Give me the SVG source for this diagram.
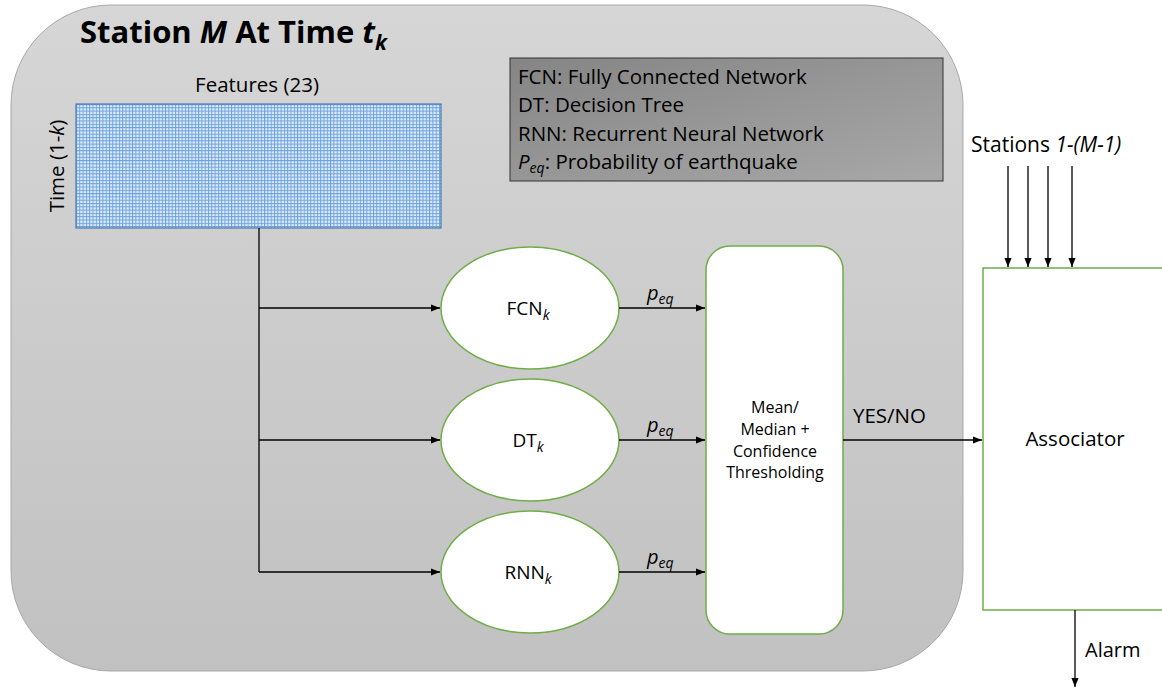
<svg xmlns="http://www.w3.org/2000/svg" width="1162" height="687" viewBox="0 0 1162 687">
<defs>
<linearGradient id="bg" x1="0" y1="0" x2="0" y2="1">
<stop offset="0" stop-color="#d6d6d6"/>
<stop offset="1" stop-color="#c1c1c1"/>
</linearGradient>
<linearGradient id="lg" x1="0" y1="0" x2="1" y2="1">
<stop offset="0" stop-color="#858585"/>
<stop offset="1" stop-color="#a8a8a8"/>
</linearGradient>
<pattern id="grid" x="76" y="104" width="3.3" height="3.3" patternUnits="userSpaceOnUse">
<rect width="3.3" height="3.3" fill="#e2ecf8"/>
<path d="M0 0.5H3.3M0.5 0V3.3" stroke="#6aa2e0" stroke-width="1"/>
</pattern>
<marker id="arr" viewBox="0 0 10 10" refX="10" refY="5" markerWidth="9" markerHeight="9" markerUnits="userSpaceOnUse" orient="auto">
<path d="M0 1L10 5L0 9Z" fill="#000"/>
</marker>
<style>
text{font-family:"Open Sans","Noto Sans","Liberation Sans",sans-serif;fill:#000}
.ln{stroke:#000;stroke-width:1.3;fill:none}
.node{fill:#fff;stroke:#70ad47;stroke-width:1.5}
.lbl{font-size:19px}
.pe{font-size:20px;font-style:italic}
.sub{font-size:14px;font-style:italic}
.lg{font-size:20.5px}
</style>
</defs>
<g id="station">
<rect x="11" y="5" width="952" height="666" rx="100" ry="100" fill="url(#bg)" stroke="#a8a8a8" stroke-width="1"/>
<text x="80" y="43" font-size="31" font-weight="bold">Station <tspan font-style="italic">M</tspan> At Time <tspan font-style="italic">t</tspan><tspan font-style="italic" font-size="21" dy="7">k</tspan></text>
</g>
<g id="legend">
<rect x="510" y="58" width="433" height="123" fill="url(#lg)" stroke="#333" stroke-width="1"/>
<text class="lg" x="518" y="84">FCN: Fully Connected Network</text>
<text class="lg" x="518" y="112">DT: Decision Tree</text>
<text class="lg" x="518" y="141">RNN: Recurrent Neural Network</text>
<text class="lg" x="518" y="169"><tspan font-style="italic">P</tspan><tspan font-style="italic" font-size="14" dy="4">eq</tspan><tspan dy="-4">: Probability of earthquake</tspan></text>
</g>
<g id="features">
<text x="257" y="92" font-size="20.5" text-anchor="middle">Features (23)</text>
<text transform="translate(64,166) rotate(-90)" font-size="20.5" text-anchor="middle">Time (1-<tspan font-style="italic">k</tspan>)</text>
<rect x="76" y="104" width="365" height="124" fill="url(#grid)" stroke="#4a7ab5" stroke-width="1.2"/>
</g>
<g id="fcn">
<ellipse class="node" cx="530" cy="308" rx="89" ry="61"/>
<text class="lbl" x="528" y="315" text-anchor="middle">FCN<tspan class="sub" dy="5">k</tspan></text>
</g>
<g id="dt">
<ellipse class="node" cx="530" cy="440" rx="89" ry="61"/>
<text class="lbl" x="528" y="447" text-anchor="middle">DT<tspan class="sub" dy="5">k</tspan></text>
</g>
<g id="rnn">
<ellipse class="node" cx="530" cy="572" rx="89" ry="61"/>
<text class="lbl" x="528" y="579" text-anchor="middle">RNN<tspan class="sub" dy="5">k</tspan></text>
</g>
<g id="combiner">
<rect class="node" x="706" y="246" width="137" height="388" rx="24" ry="24"/>
<g font-size="16" text-anchor="middle">
<text x="775" y="413">Mean/</text>
<text x="775" y="435">Median +</text>
<text x="775" y="457">Confidence</text>
<text x="775" y="478">Thresholding</text>
</g>
</g>
<g id="associator">
<rect class="node" x="983" y="268" width="190" height="342"/>
<text x="1075" y="446" font-size="20.5" text-anchor="middle">Associator</text>
</g>
<g id="connectors">
<path class="ln" d="M259 228V572"/>
<path class="ln" d="M259 308H440" marker-end="url(#arr)"/>
<path class="ln" d="M259 440H440" marker-end="url(#arr)"/>
<path class="ln" d="M259 572H440" marker-end="url(#arr)"/>
<path class="ln" d="M619 308H705" marker-end="url(#arr)"/>
<path class="ln" d="M619 440H705" marker-end="url(#arr)"/>
<path class="ln" d="M619 572H705" marker-end="url(#arr)"/>
<path class="ln" d="M843 440H982" marker-end="url(#arr)"/>
<path class="ln" d="M1008 166V267" marker-end="url(#arr)"/>
<path class="ln" d="M1028 166V267" marker-end="url(#arr)"/>
<path class="ln" d="M1048 166V267" marker-end="url(#arr)"/>
<path class="ln" d="M1072 166V267" marker-end="url(#arr)"/>
<path class="ln" d="M1075 610V687" marker-end="url(#arr)"/>
<text class="pe" x="647" y="300">p<tspan font-size="14" dy="4">eq</tspan></text>
<text class="pe" x="647" y="432">p<tspan font-size="14" dy="4">eq</tspan></text>
<text class="pe" x="647" y="564">p<tspan font-size="14" dy="4">eq</tspan></text>
<text x="853" y="423" font-size="20.5">YES/NO</text>
<text x="971" y="152" font-size="21">Stations <tspan font-style="italic">1-(M-1)</tspan></text>
<text x="1085" y="657" font-size="20">Alarm</text>
</g>
</svg>
